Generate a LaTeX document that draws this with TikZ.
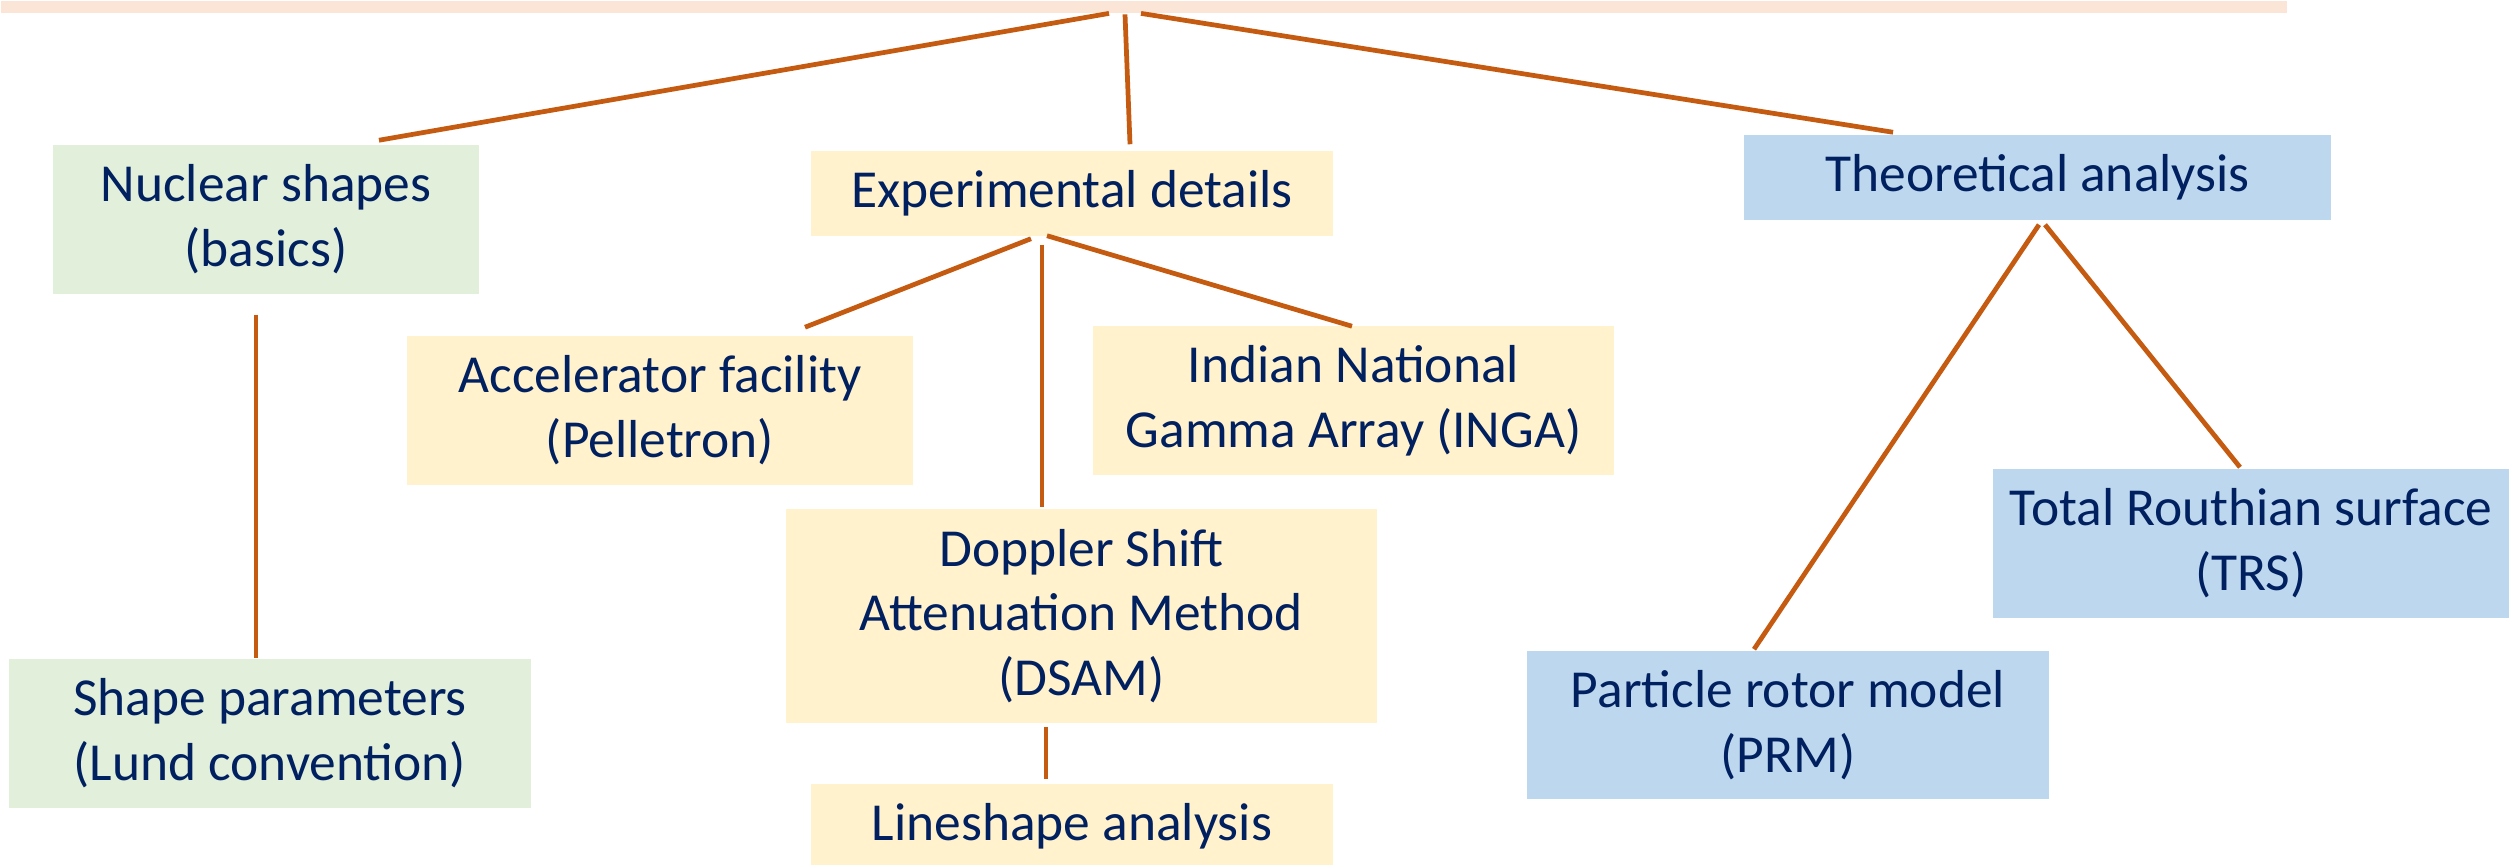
\documentclass[tikz,border=0pt]{standalone}
\usepackage{fontspec}
\setmainfont{Carlito}
\usetikzlibrary{calc}
\definecolor{navytext}{HTML}{002060}
\definecolor{rust}{HTML}{C55A11}
\definecolor{peach}{HTML}{FBE5D6}
\definecolor{mint}{HTML}{E2EFDA}
\definecolor{cream}{HTML}{FFF2CC}
\definecolor{sky}{HTML}{BDD7EE}
\tikzset{
  box/.style={rectangle, inner sep=0pt, align=center, text=navytext,
    font=\fontsize{15.2}{18.4}\selectfont},
  greenbox/.style={box, fill=mint},
  yellowbox/.style={box, fill=cream},
  bluebox/.style={box, fill=sky},
  link/.style={draw=rust, line width=1.35pt}
}
\begin{document}
\begin{tikzpicture}[x=0.01cm, y=-0.01cm]
  \clip (0,0) rectangle (2509,865);
  % header strip
  \node[fill=peach, inner sep=0pt, minimum width=22.85cm, minimum height=0.12cm,
        anchor=north west] (topbar) at (0,0) {};

  % first level
  \node[greenbox, minimum width=4.26cm, minimum height=1.49cm] (nuc) at (266,219.5)
    {Nuclear shapes\\(basics)};
  \node[yellowbox, minimum width=5.22cm, minimum height=0.85cm] (exp) at (1072,193.5)
    {Experimental details};
  \node[bluebox, minimum width=5.87cm, minimum height=0.85cm] (theo) at (2037.5,177.5)
    {Theoretical analysis};

  % nuclear shapes branch
  \node[greenbox, minimum width=5.22cm, minimum height=1.49cm] (shape) at (270,733.5)
    {Shape parameters\\(Lund convention)};

  % experimental branch
  \node[yellowbox, minimum width=5.06cm, minimum height=1.49cm] (acc) at (660,410.5)
    {Accelerator facility\\(Pelletron)};
  \node[yellowbox, minimum width=5.21cm, minimum height=1.49cm] (inga) at (1353.5,400.5)
    {Indian National\\Gamma Array (INGA)};
  \node[yellowbox, minimum width=5.91cm, minimum height=2.14cm] (dsam) at (1081.5,616)
    {Doppler Shift\\Attenuation Method\\(DSAM)};
  \node[yellowbox, minimum width=5.22cm, minimum height=0.85cm] (lsa) at (1072,826.5)
    {Lineshape analysis};

  % theoretical branch
  \node[bluebox, minimum width=5.16cm, minimum height=1.49cm] (trs) at (2251,543.5)
    {Total Routhian surface\\(TRS)};
  \node[bluebox, minimum width=5.22cm, minimum height=1.48cm] (prm) at (1788,725)
    {Particle rotor model\\(PRM)};

  % connectors
  \draw[link] ($(topbar.south west)+(1109,0)$) -- ($(nuc.north)+(113,-4)$);
  \draw[link] ($(topbar.south west)+(1125,1)$) -- ($(exp.north)+(58,-6)$);
  \draw[link] ($(topbar.south west)+(1141,0)$) -- ($(theo.north)+(-144.5,-2)$);

  \draw[link] ($(nuc.south)+(-10,20)$) -- ($(shape.north)+(-14,0)$);

  \draw[link] ($(exp.south)+(-41,2)$) -- ($(acc.north)+(145,-8)$);
  \draw[link] ($(exp.south)+(-30,8)$) -- ($(dsam.north)+(-39.5,-1)$);
  \draw[link] ($(exp.south)+(-25,-1)$) -- ($(inga.north)+(-1.5,1)$);
  \draw[link] ($(dsam.south)+(-35.5,3)$) -- ($(lsa.north)+(-26,-4)$);

  \draw[link] ($(theo.south)+(1.5,4)$) -- ($(prm.north)+(-34,-1)$);
  \draw[link] ($(theo.south)+(7.5,4)$) -- ($(trs.north)+(-11,-1)$);
\end{tikzpicture}
\end{document}
